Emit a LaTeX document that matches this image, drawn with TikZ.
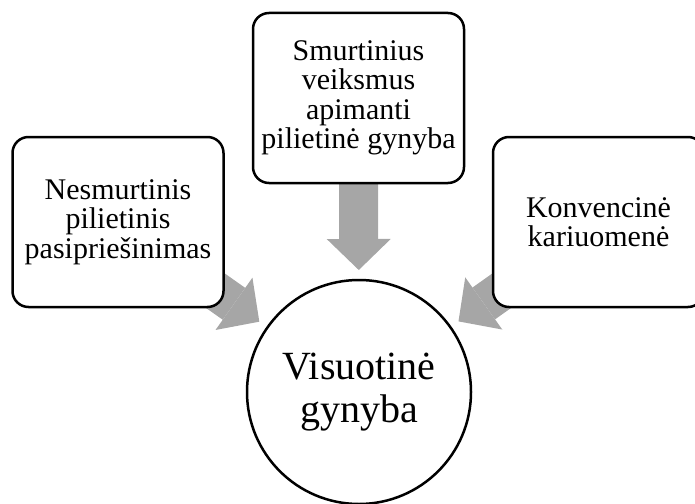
\documentclass[tikz,border=0pt]{standalone}
\usepackage{fontspec}
\setmainfont{Liberation Serif}
\usetikzlibrary{arrows.meta,backgrounds}

\definecolor{arrowgray}{RGB}{166,166,166}
\newcommand*{\boxw}{211pt}
\newcommand*{\boxh}{170pt}

\begin{document}
\begin{tikzpicture}
[
	x=1pt,
	y=-1pt,
	roundbox/.style={draw,line width=2.5pt,fill=white,rounded corners=16pt,
		minimum width=\boxw,minimum height=\boxh,inner sep=0pt,align=center,
		font=\fontsize{30}{29.5}\selectfont},
	bigcircle/.style={circle,draw,line width=2.5pt,fill=white,minimum size=224pt,
		inner sep=0pt,align=center,font=\fontsize{40}{43}\selectfont},
	blockarrow/.style={draw=arrowgray,line width=39pt,shorten >=122pt,
		-{Triangle[width=64pt,length=31pt,line width=0pt]}}
]

	\useasboundingbox (0,0) rectangle (695,503);
	\clip (0,0) rectangle (695,503);

	% centre
	\node[bigcircle] (total) at (359,392) {Visuotinė\\gynyba};

	% boxes
	\node[roundbox] (nonviolent) at (118,222) {Nesmurtinis\\pilietinis\\pasipriešinimas};
	\node[roundbox] (armed) at (358.5,98) {Smurtinius\\veiksmus\\apimanti\\pilietinė gynyba};
	\node[roundbox] (army) at (598.5,222) {Konvencinė\\kariuomenė};

	% arrows
	\begin{pgfonlayer}{background}
		\draw[blockarrow] (nonviolent.center) -- (total.center);
		\draw[blockarrow] (armed.center) -- (total.center);
		\draw[blockarrow] (army.center) -- (total.center);
	\end{pgfonlayer}

\end{tikzpicture}
\end{document}
